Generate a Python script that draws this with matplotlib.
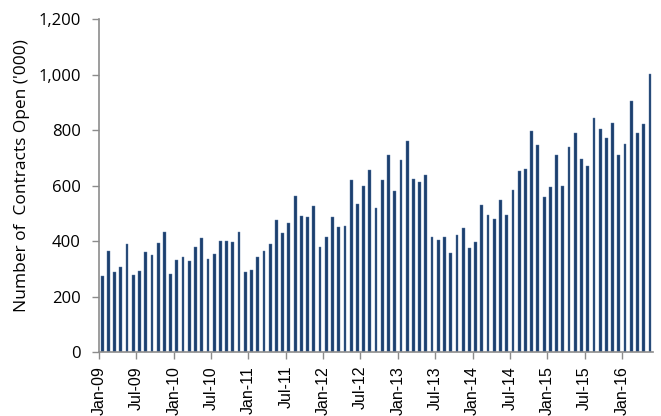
import matplotlib
matplotlib.use("Agg")
import matplotlib.pyplot as plt
import numpy as np

# Monthly contracts open ('000), Jan-09 .. May-16
values = [
    275, 364, 290, 306, 388, 277, 293, 361, 348, 394, 432, 280,
    331, 342, 329, 380, 411, 335, 353, 400, 400, 398, 432, 290,
    295, 342, 364, 388, 475, 430, 464, 562, 489, 485, 527, 380,
    416, 487, 452, 453, 620, 532, 597, 656, 519, 620, 710, 581,
    692, 760, 623, 613, 637, 413, 404, 413, 358, 421, 448, 376,
    398, 528, 494, 481, 548, 494, 584, 653, 660, 795, 745, 557,
    595, 709, 597, 739, 790, 697, 669, 843, 804, 772, 824, 709,
    750, 905, 789, 820, 1003,
]
months = ["Jan", "Feb", "Mar", "Apr", "May", "Jun",
          "Jul", "Aug", "Sep", "Oct", "Nov", "Dec"]
categories = [f"{months[i % 12]}-{9 + i // 12:02d}" for i in range(len(values))]
tick_labels = [c for c in categories if c.startswith(("Jan", "Jul"))]
y_ticks = [0, 200, 400, 600, 800, 1000, 1200]

fig = plt.figure(figsize=(6.61, 4.16), dpi=100)
ax = fig.add_axes([0.1498, 0.1538, 0.988 - 0.1498, 0.9543 - 0.1538])

x = np.arange(len(values))
ax.bar(x, values, width=0.45, color="#1c3f6e", edgecolor="#5a7aa6", linewidth=0.3)

ax.set_xlim(-0.5, len(values) - 0.5)
ax.set_ylim(0, 1200)
ax.set_yticks(y_ticks)
ax.set_yticklabels([f"{v:,}" for v in y_ticks], fontfamily="Open Sans", fontsize=12)
tick_pos = [categories.index(t) - 0.5 for t in tick_labels]
ax.set_xticks(tick_pos)
ax.set_xticklabels(tick_labels, rotation=90, fontfamily="Liberation Sans", fontsize=11.5)

for s in ["top", "right"]:
    ax.spines[s].set_visible(False)
for s in ["left", "bottom"]:
    ax.spines[s].set_color("#8c8c8c")
    ax.spines[s].set_linewidth(1.2)
ax.tick_params(axis="both", colors="#8c8c8c", length=5, width=1.0, labelcolor="black")
ax.tick_params(axis="y", pad=8)
ax.tick_params(axis="x", pad=5)

ax.set_ylabel("Number of  Contracts Open ('000)", fontfamily="Open Sans", fontsize=12.5)
ax.yaxis.set_label_coords(-0.124, 0.53)

fig.savefig("out.png", dpi=100)
